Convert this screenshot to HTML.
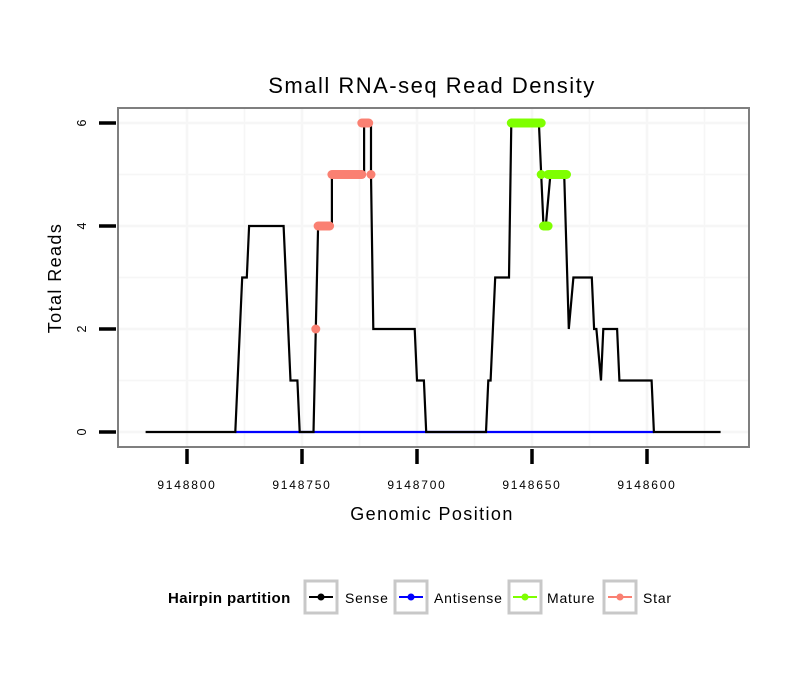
<!DOCTYPE html>
<html><head><meta charset="utf-8"><style>
body{margin:0;background:#fff;}
svg{display:block;font-family:"Liberation Sans",Arial,sans-serif;}
</style></head><body>
<svg id="chart" width="810" height="690">
<rect x="0" y="0" width="810" height="690" fill="#fff"/>
<text x="432" y="93" font-size="22" letter-spacing="1.5" text-anchor="middle">Small RNA-seq Read Density</text>
<g id="grid"></g>
<g id="series"></g>
<rect x="118" y="108" width="631" height="339" fill="none" stroke="#7f7f7f" stroke-width="2"/>
<g id="axes"></g>
<text x="432" y="520" font-size="18" letter-spacing="1.4" text-anchor="middle">Genomic Position</text>
<text transform="translate(61,278) rotate(-90)" font-size="18" letter-spacing="1.4" text-anchor="middle">Total Reads</text>
<g>
<text x="168" y="603" font-size="15" letter-spacing="0.4" font-weight="bold">Hairpin partition</text>
<g><rect x="305" y="581" width="32" height="32" fill="#fff" stroke="#c8c8c8" stroke-width="3"/><line x1="309" y1="597" x2="333" y2="597" stroke="#000" stroke-width="2"/><circle cx="321" cy="597" r="3.5" fill="#000"/><text x="345" y="603" font-size="14" letter-spacing="0.8">Sense</text></g>
<g><rect x="395" y="581" width="32" height="32" fill="#fff" stroke="#c8c8c8" stroke-width="3"/><line x1="399" y1="597" x2="423" y2="597" stroke="#0000ff" stroke-width="2"/><circle cx="411" cy="597" r="3.5" fill="#0000ff"/><text x="434" y="603" font-size="14" letter-spacing="0.8">Antisense</text></g>
<g><rect x="509" y="581" width="32" height="32" fill="#fff" stroke="#c8c8c8" stroke-width="3"/><line x1="513" y1="597" x2="537" y2="597" stroke="#7fff00" stroke-width="2"/><circle cx="525" cy="597" r="3.5" fill="#7fff00"/><text x="547" y="603" font-size="14" letter-spacing="0.8">Mature</text></g>
<g><rect x="604" y="581" width="32" height="32" fill="#fff" stroke="#c8c8c8" stroke-width="3"/><line x1="608" y1="597" x2="632" y2="597" stroke="#fa8072" stroke-width="2"/><circle cx="620" cy="597" r="3.5" fill="#fa8072"/><text x="643" y="603" font-size="14" letter-spacing="0.8">Star</text></g>
</g>
</svg>
<script>
const senseX=[9148818,9148779,9148776,9148774,9148773,9148758,9148755,9148752,9148751,9148745,9148744,9148743,9148737,9148737,9148723,9148723,9148720,9148720,9148719,9148701,9148700,9148697,9148696,9148670,9148669,9148668,9148666,9148660,9148659,9148647,9148646,9148645,9148644,9148642,9148636,9148634,9148632,9148624,9148623,9148622,9148620,9148619,9148613,9148612,9148598,9148597,9148568];
const senseY=[0,0,3,3,4,4,1,1,0,0,2,4,4,5,5,6,6,5,2,2,1,1,0,0,1,1,3,3,6,6,5,4,4,5,5,2,3,3,2,2,1,2,2,1,1,0,0];
const antisenseX=[9148779,9148597];
const antisenseY=[0,0];
const starStart=[9148744,9148743,9148737,9148724,9148720];
const starEnd=[9148744,9148738,9148724,9148721,9148720];
const starVal=[2,4,5,6,5];
const matureStart=[9148659,9148646,9148645,9148643];
const matureEnd=[9148646,9148646,9148643,9148635];
const matureVal=[6,5,4,5];
const xTicks=[9148800,9148750,9148700,9148650,9148600];
const xTickLabels=["9148800","9148750","9148700","9148650","9148600"];
const yTicks=[0,2,4,6];
const yTickLabels=["0","2","4","6"];

const NS="http://www.w3.org/2000/svg";
function X(p){return 187+(9148800-p)*2.3;}
function Y(v){return 432-v*51.5;}
function mk(tag,attrs,parent){const e=document.createElementNS(NS,tag);for(const k in attrs)e.setAttribute(k,attrs[k]);parent.appendChild(e);return e;}
const grid=document.getElementById('grid'),series=document.getElementById('series'),axes=document.getElementById('axes');
for(let v=0;v<=6;v++){const g=mk('line',{x1:119,x2:748,y1:Y(v),y2:Y(v),stroke:'#f6f6f6','stroke-width':v%2?1.5:2.5},grid);

}
for(let i=0;i<xTicks.length;i++){for(const p of [xTicks[i],xTicks[i]-25]){const x=X(p);if(x<119||x>748)continue;const g=mk('line',{x1:x,x2:x,y1:109,y2:446,stroke:'#f6f6f6','stroke-width':p===xTicks[i]?2.5:1.5},grid);

}}
function pts(xs,ys){return xs.map((p,i)=>X(p)+','+Y(ys[i])).join(' ');}
const anti=mk('polyline',{points:pts(antisenseX,antisenseY),fill:'none',stroke:'#0000ff','stroke-width':2.2},series);


const sense=mk('polyline',{points:pts(senseX,senseY),fill:'none',stroke:'#000','stroke-width':2.2,'stroke-linejoin':'miter'},series);


function dots(s,e,v,color,name){for(let i=0;i<s.length;i++){for(let p=s[i];p>=e[i];p-=0.5){const c=mk('circle',{cx:X(p),cy:Y(v[i]),r:4.5,fill:color},series);

}}}
dots(starStart,starEnd,starVal,'#fa8072','star-point');
dots(matureStart,matureEnd,matureVal,'#7fff00','mature-point');
for(let i=0;i<yTicks.length;i++){const y=Y(yTicks[i]);
const t=mk('line',{x1:99,x2:116,y1:y,y2:y,stroke:'#000','stroke-width':3.5},axes);


const l=mk('text',{transform:`translate(86,${y}) rotate(-90)`,'font-size':12.5,'text-anchor':'middle'},axes);l.textContent=yTickLabels[i];

}
for(let i=0;i<xTicks.length;i++){const x=X(xTicks[i]);
const t=mk('line',{x1:x,x2:x,y1:449,y2:464,stroke:'#000','stroke-width':3.5},axes);


const l=mk('text',{x:x,y:489,'font-size':12,'letter-spacing':1.8,'text-anchor':'middle'},axes);l.textContent=xTickLabels[i];

}
</script>
</body></html>
